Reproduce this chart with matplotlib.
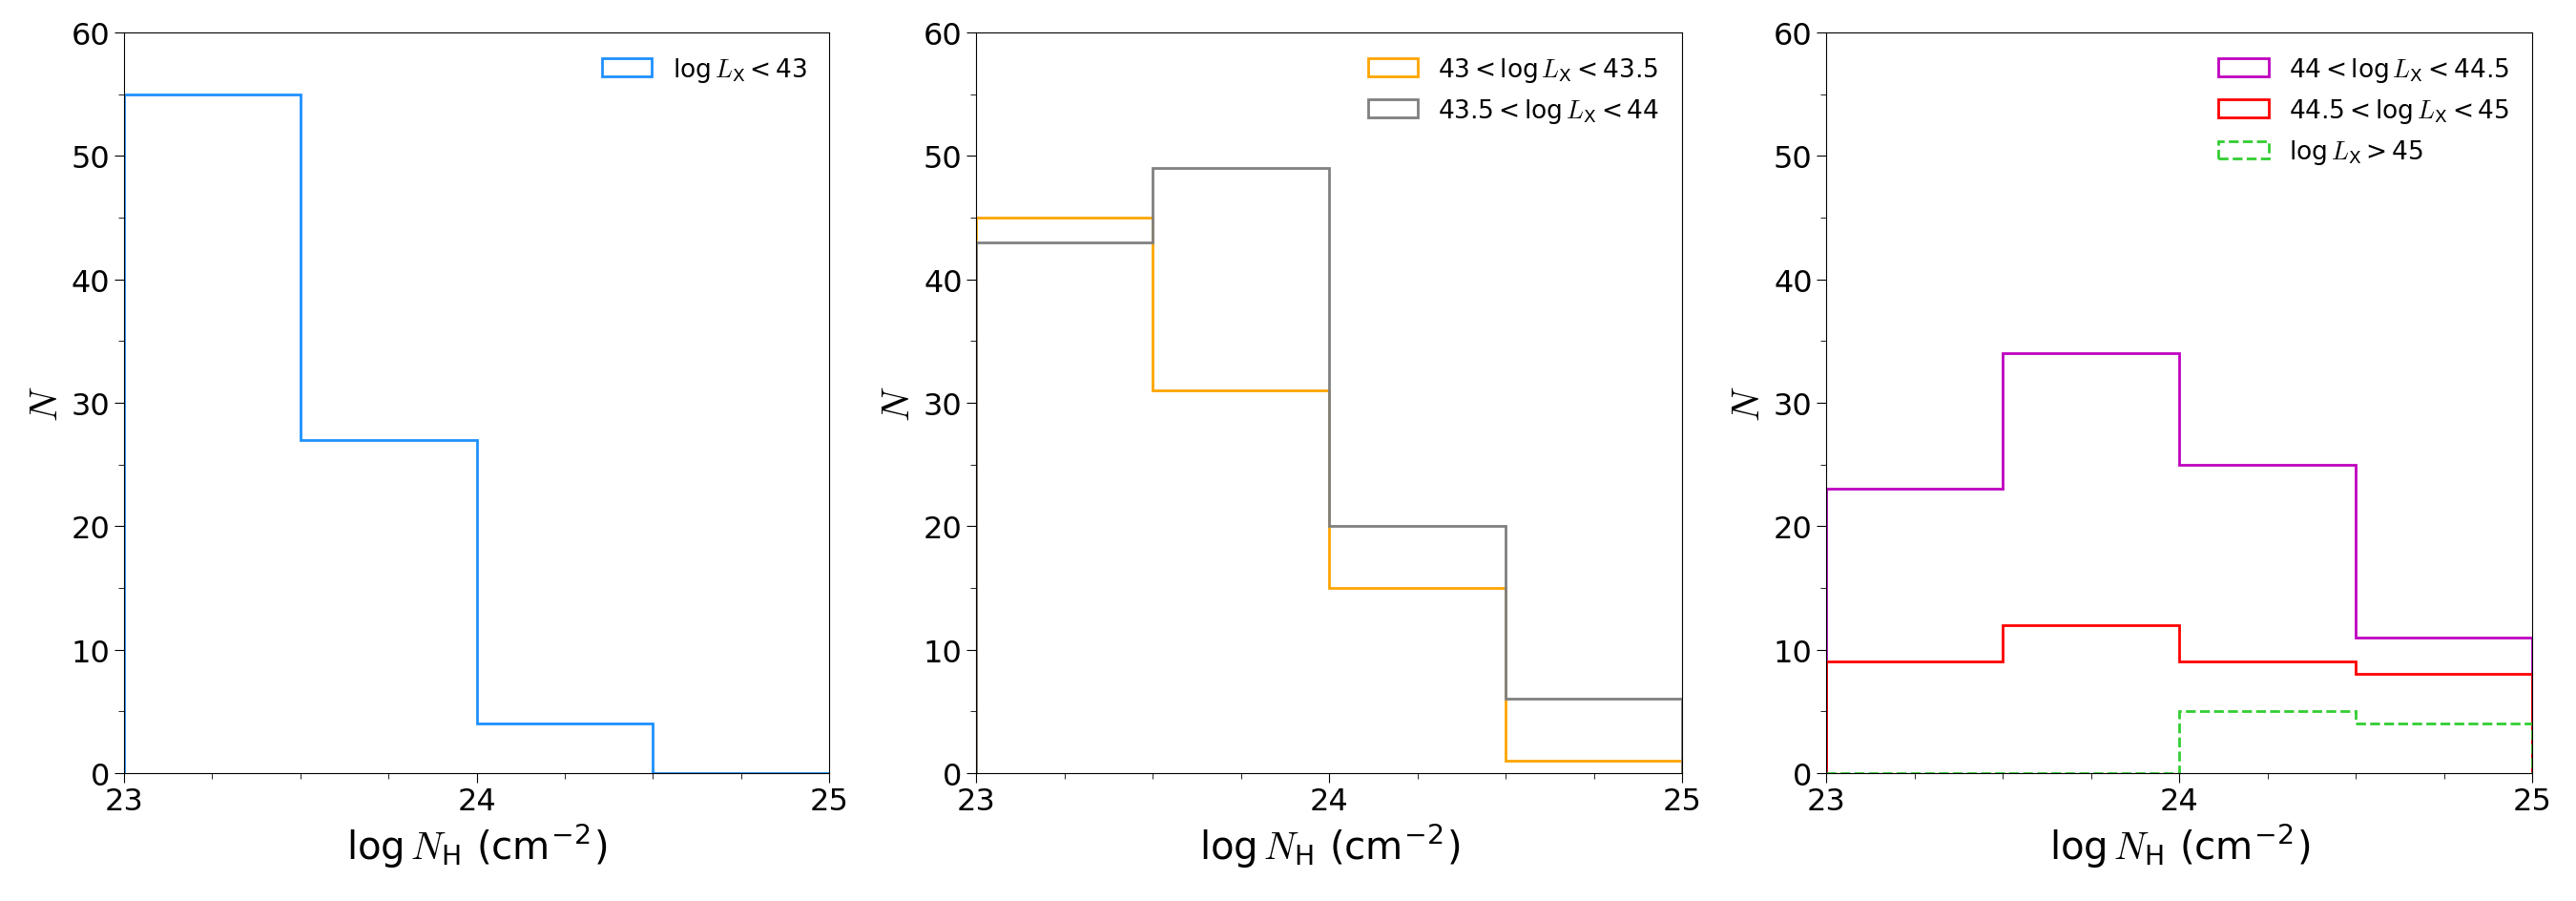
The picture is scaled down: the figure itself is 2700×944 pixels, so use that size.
import numpy as np
from matplotlib import pyplot as plt
from matplotlib.ticker import MultipleLocator

plt.rcParams['mathtext.fontset'] = 'custom'
plt.rcParams['mathtext.rm'] = 'DejaVu Sans'
plt.rcParams['mathtext.it'] = 'cmmi10'

bins = [23.0, 23.5, 24.0, 24.5, 25.0]
centers = [23.25, 23.75, 24.25, 24.75]

# counts per log NH bin
n_lt43 = [55, 27, 4, 0]
n_43_435 = [45, 31, 15, 1]
n_435_44 = [43, 49, 20, 6]
n_44_445 = [23, 34, 25, 11]
n_445_45 = [9, 12, 9, 8]
n_gt45 = [0, 0, 5, 4]

panels = [
    [(n_lt43, '#1E90FF', '-', r'$\log L_{\rm X} < 43$')],
    [(n_43_435, 'orange', '-', r'$43 < \log L_{\rm X} < 43.5$'),
     (n_435_44, 'grey', '-', r'$43.5 < \log L_{\rm X} < 44$')],
    [(n_44_445, 'm', '-', r'$44 < \log L_{\rm X} < 44.5$'),
     (n_445_45, 'red', '-', r'$44.5 < \log L_{\rm X} < 45$'),
     (n_gt45, 'limegreen', '--', r'$\log L_{\rm X} > 45$')],
]

fig = plt.figure(figsize=(27, 9.45), dpi=100)
lefts = [0.048, 0.379, 0.709]
for left, series in zip(lefts, panels):
    ax = fig.add_axes([left, 0.142, 0.274, 0.821])
    for counts, color, ls, label in series:
        ax.hist(centers, bins=bins, weights=counts, histtype='step',
                color=color, linestyle=ls, linewidth=2, label=label)
    ax.set_xlim(23, 25)
    ax.set_ylim(0, 60)
    ax.set_xticks([23, 24, 25])
    ax.xaxis.set_minor_locator(MultipleLocator(0.25))
    ax.yaxis.set_minor_locator(MultipleLocator(5))
    ax.tick_params(which='major', labelsize=23, length=7)
    ax.tick_params(which='minor', length=4)
    ax.set_xlabel(r'$\log N_{\rm H}$ (cm$^{-2}$)', fontsize=29)
    ax.set_ylabel(r'$N$', fontsize=29)
    ax.legend(loc='upper right', frameon=False, fontsize=19)

plt.savefig('out.png', dpi=100)
plt.close(fig)
